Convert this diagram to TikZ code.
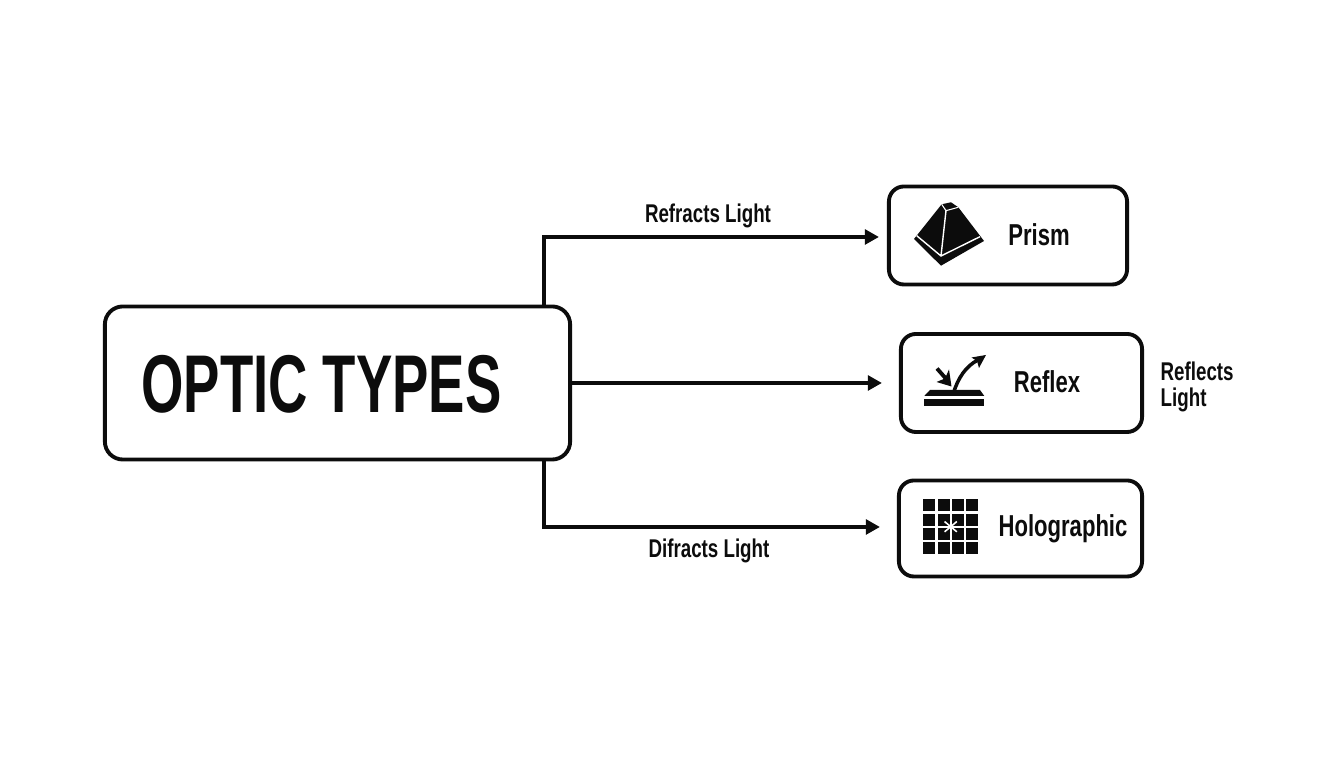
\documentclass[tikz,border=0pt]{standalone}
\usepackage{fontspec}
\setmainfont[FakeStretch=0.73]{Liberation Sans}
\newfontfamily\titlefont[FakeStretch=0.665]{Liberation Sans}
\usetikzlibrary{arrows.meta,positioning}

\begin{document}
\begin{tikzpicture}[x=0.01cm, y=-0.01cm]
    \definecolor{ink}{HTML}{0C0C0C}
    \tikzstyle{box} = [draw=ink, line width=1.1pt, rounded corners=0.15cm, fill=white, inner sep=0pt, outer sep=0pt]
    \tikzstyle{flow} = [-{Triangle[length=4pt, width=4.2pt]}, draw=ink, line width=0.95pt]
    \tikzstyle{boxtext} = [text=ink, font=\fontsize{8.6}{11}\selectfont\bfseries, inner sep=0pt]
    \tikzstyle{linktext} = [text=ink, font=\fontsize{7.3}{7.4}\selectfont\bfseries, inner sep=0pt]
    \useasboundingbox[fill=white] (0, 0) rectangle (1344, 768);
    % boxes
    \node[box, rounded corners=0.18cm, minimum width=4.65cm, minimum height=1.53cm] (main) at (337.5, 383) {};
    \node[box, minimum width=2.38cm, minimum height=0.98cm] (prism) at (1008, 235.5) {};
    \node[box, minimum width=2.41cm, minimum height=0.98cm] (reflex) at (1021.5, 383) {};
    \node[box, minimum width=2.43cm, minimum height=0.96cm] (holo) at (1020.5, 528.5) {};
    % texts
    \node[text=ink, font=\fontsize{23.3}{26}\selectfont\titlefont\bfseries, inner sep=0pt] (title) at (321.5, 384) {OPTIC TYPES};
    \node[boxtext] (prismname) at (1039, 235) {Prism};
    \node[boxtext] (reflexname) at (1047, 382) {Reflex};
    \node[boxtext] (holoname) at (1063, 529) {Holographic};
    \node[linktext] (refracts) at (708, 216) {Refracts Light};
    \node[linktext] (difracts) at (709, 551) {Difracts Light};
    \node[linktext, align=left, anchor=west] (reflects) at (1160, 386.5) {Reflects\\Light};
    % connectors
    \coordinate (trunk) at (544, 383);
    \draw[flow, shorten >=0.1cm] (main.north -| trunk) |- ([yshift=-0.015cm]prism.west);
    \draw[flow, shorten >=0.19cm] (main.east) -- (reflex.west);
    \draw[flow, shorten >=0.19cm] (main.south -| trunk) |- ([yshift=0.015cm]holo.west);
    % prism icon
    \fill[ink] (914, 239) -- (941, 265.7) -- (984, 241) -- (958.3, 207.3) -- (951, 202.3) -- (941.7, 204.3) -- cycle;
    \draw[white, line width=0.3pt] (941.7, 204.3) -- (946, 210.7) -- (958.3, 207.3);
    \draw[white, line width=0.4pt] (946, 210.7) -- (941, 256) (916.7, 235.7) -- (941, 256) -- (980, 236.7);
    % reflex icon
    \fill[ink] (924.3, 396) -- (930, 390) -- (980, 390) -- (984.3, 396) -- cycle;
    \fill[ink] (924.3, 399) rectangle (984.3, 405.7);
    \draw[ink, line width=1.1pt] (937, 368.5) -- (948, 381);
    \fill[ink] (951.5, 386.5) -- (936.5, 382) -- (945, 378.5) -- (949, 369.5) -- cycle;
    \draw[ink, line width=1pt] (953.5, 393) .. controls (958, 378) and (966, 366) .. (978, 360);
    \fill[ink] (986, 355) -- (971.5, 357.5) -- (977, 361) -- (979, 368) -- cycle;
    % holographic icon
    \foreach \i in {0, 1, 2, 3} {
        \foreach \j in {0, 1, 2, 3} {
            \fill[ink] (923.3 + 14.3 * \i, 499.3 + 14.3 * \j) rectangle ++(12, 12);
        }
    }
    \foreach \a in {40, 90, 140} {
        \draw[white, line width=0.45pt] (950.7, 526.7) ++(\a:0.08cm) -- ++(\a+180:0.16cm);
    }
\end{tikzpicture}
\end{document}
